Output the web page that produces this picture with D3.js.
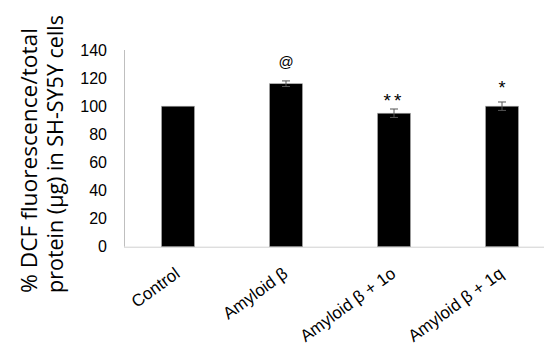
<!DOCTYPE html>
<html><head><meta charset="utf-8">
<script src="https://cdn.jsdelivr.net/npm/d3@7"></script>
<style>body{margin:0;background:#fff}</style>
</head><body>
<svg id="c" width="544" height="348"></svg>
<script>
const categories = ["Control", "Amyloid β", "Amyloid β + 1o", "Amyloid β + 1q"];
const values = [100, 116, 95, 100];
const errors = [0, 2, 3, 3];
const marks = ["", "@", "**", "*"];
const yTicks = [0, 20, 40, 60, 80, 100, 120, 140];

const svg = d3.select("#c");
const x = d3.scaleBand().domain(categories).range([124, 556]).padding(0);
const y = d3.scaleLinear().domain([0, 140]).range([246.7, 50]);
const bw = x.bandwidth() * 0.305;
const cx = d => x(d) + x.bandwidth() / 2;
const markOffset = {"@": 14, "**": 2, "*": 8};
const markSize = {"@": 15, "**": 19, "*": 18};

// axes lines
svg.append("line").attr("x1", 124.5).attr("x2", 124.5).attr("y1", y(140)).attr("y2", y(0))
  .attr("stroke", "#bfbfbf").attr("stroke-width", 1);
svg.append("line").attr("x1", 124).attr("x2", 556).attr("y1", y(0) + 0.5).attr("y2", y(0) + 0.5)
  .attr("stroke", "#d0d0d0").attr("stroke-width", 1);

// y tick labels
svg.append("g").selectAll("text").data(yTicks).join("text")
  .attr("x", 107).attr("y", d => y(d)).attr("dy", "0.36em")
  .attr("text-anchor", "end").attr("font-family", "Liberation Sans, Arial, sans-serif")
  .attr("font-size", 16).attr("fill", "#000").text(d => d);

// bars
svg.append("g").selectAll("rect").data(categories).join("rect")
  .attr("x", d => cx(d) - bw / 2).attr("width", bw)
  .attr("y", (d, i) => y(values[i])).attr("height", (d, i) => y(0) - y(values[i]))
  .attr("fill", "#000").attr("stroke", "#aaa").attr("stroke-width", 0.6);

// error bars
const eg = svg.append("g").attr("stroke", "#555").attr("stroke-width", 1);
categories.forEach((c, i) => {
  if (!errors[i]) return;
  const xc = cx(c);
  const t = y(values[i] + errors[i]), b = y(values[i] - errors[i]);
  eg.append("line").attr("x1", xc).attr("x2", xc).attr("y1", t).attr("y2", b);
  eg.append("line").attr("x1", xc - 4).attr("x2", xc + 4).attr("y1", t).attr("y2", t);
  eg.append("line").attr("x1", xc - 4).attr("x2", xc + 4).attr("y1", b).attr("y2", b);
});

// significance marks
svg.append("g").selectAll("text").data(categories).join("text")
  .attr("x", d => cx(d))
  .attr("y", (d, i) => y(values[i] + errors[i]) - (markOffset[marks[i]] || 0))
  .attr("text-anchor", "middle").attr("font-family", "Liberation Sans, Arial, sans-serif")
  .attr("font-size", (d, i) => markSize[marks[i]] || 16)
  .attr("letter-spacing", (d, i) => marks[i] === "**" ? 3 : 0)
  .attr("fill", "#000")
  .text((d, i) => marks[i]);

// x labels
svg.append("g").selectAll("text").data(categories).join("text")
  .attr("transform", d => `translate(${cx(d) + 3},${276}) rotate(-36)`)
  .attr("text-anchor", "end")
  .attr("font-family", "Liberation Sans, Arial, sans-serif").attr("font-size", 17)
  .attr("fill", "#000").text(d => d);

// y title
const yt = svg.append("g").attr("font-family", "Open Sans, Noto Sans, sans-serif").attr("font-size", 21.5).attr("fill", "#000");
yt.append("text").attr("transform", "translate(37,160.5) rotate(-90)").attr("text-anchor", "middle")
  .attr("textLength", 265).attr("lengthAdjust", "spacingAndGlyphs").text("% DCF fluorescence/total");
yt.append("text").attr("transform", "translate(63,154) rotate(-90)").attr("text-anchor", "middle")
  .attr("textLength", 278).attr("lengthAdjust", "spacingAndGlyphs").text("protein (µg) in SH-SY5Y cells");
</script>
</body></html>
